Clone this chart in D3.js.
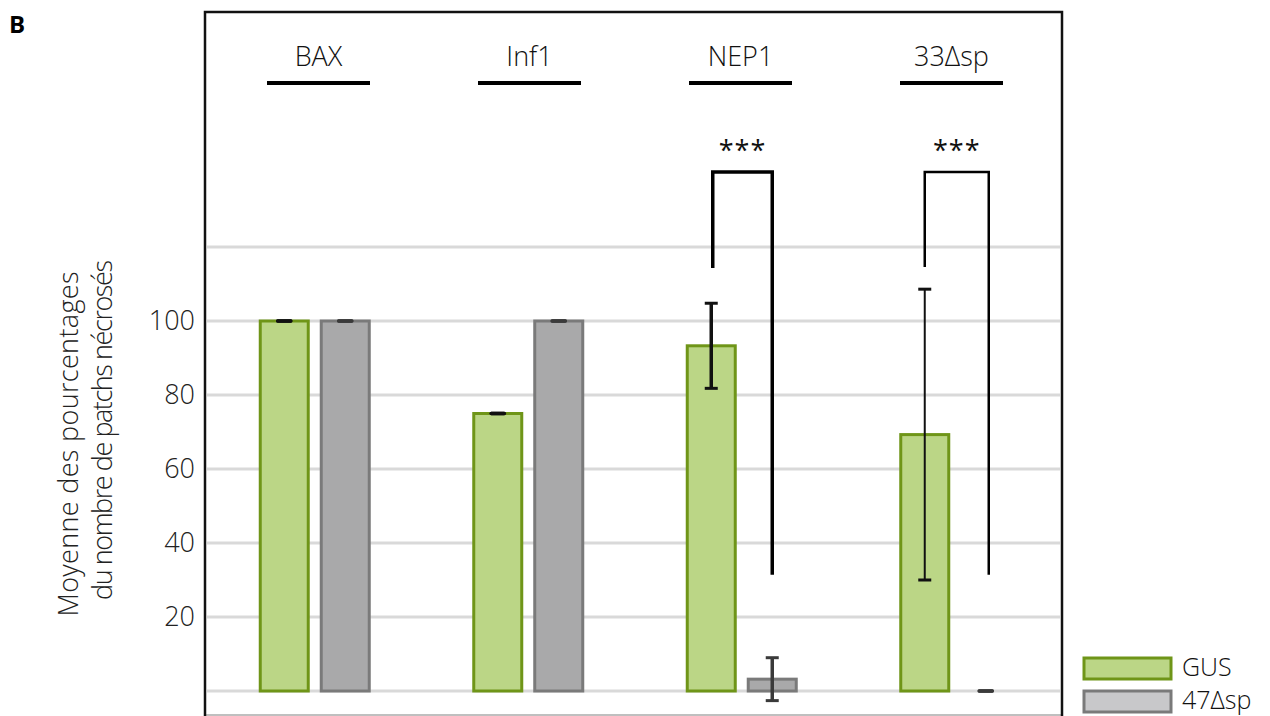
<!DOCTYPE html>
<html><head><meta charset="utf-8">
<script src="https://cdn.jsdelivr.net/npm/d3@7"></script>
<style>
html,body{margin:0;padding:0;background:#fff;}
svg{display:block;font-family:"Open Sans","Noto Sans",sans-serif;}
</style></head>
<body><svg id="c" width="1270" height="716"></svg>
<script>
// ---- data ----
const categories = ["BAX", "Inf1", "NEP1", "33\u0394sp"];
const series = ["GUS", "47\u0394sp"];
const gusValues = [100, 75, 93.3, 69.3];
const gusErrors = [0, 0, 11.5, 39.3];
const sp47Values = [100, 100, 3.2, 0];
const sp47Errors = [0, 0, 5.8, 0];
const yTicks = [20, 40, 60, 80, 100];
const gridValues = [0, 20, 40, 60, 80, 100, 120];
const significance = [
  {cat: "NEP1", top: 140.3, leftEnd: 114.3, rightEnd: 31.4, label: "***"},
  {cat: "33\u0394sp", top: 140.3, leftEnd: 114.6, rightEnd: 31.4, label: "***"}
];
const axisTitle = ["Moyenne des pourcentages", "du nombre de patchs n\u00e9cros\u00e9s"];
const panelLabel = "B";

// ---- styles ----
const fills = {"GUS": "#bbd686", "47\u0394sp": "#a9a9aa"};
const strokes = {"GUS": "#6f9518", "47\u0394sp": "#7a7a7a"};
const errColor = {"GUS": "#111", "47\u0394sp": "#3a3a3a"};
const errWidth = [3, 3, 3.5, 2];
const bracketWidth = [3.5, 2.5];

const svg = d3.select("#c");
const frame = {left: 205, right: 1062, top: 12, bottom: 715};

const x0 = d3.scaleBand().domain(categories).range([208, 1062]).paddingInner(0).paddingOuter(0);
const xh = d3.scaleBand().domain(categories).range([213, 1057]);
const x1 = d3.scaleBand().domain(series).range([-54.5, 54.5]).paddingInner(0.213).paddingOuter(0);
const y = d3.scaleLinear().domain([0, 100]).range([691, 321]);

const cx = c => x0(c) + x0.bandwidth() / 2;
const hx = c => xh(c) + xh.bandwidth() / 2;

// grid
svg.append("g").selectAll("line").data(gridValues).join("line")
  .attr("x1", frame.left + 2).attr("x2", frame.right - 2)
  .attr("y1", d => y(d)).attr("y2", d => y(d))
  .attr("stroke", "#d9d9d9").attr("stroke-width", 3);

// frame
svg.append("line").attr("x1", frame.left + 1).attr("x2", frame.right)
  .attr("y1", frame.bottom).attr("y2", frame.bottom)
  .attr("stroke", "#bfbfbf").attr("stroke-width", 2);
svg.append("path")
  .attr("d", `M${frame.left},716 V${frame.top} H${frame.right} V716`)
  .attr("fill", "none").attr("stroke", "#111").attr("stroke-width", 2.5);

// y axis labels
const yAxis = svg.append("g").attr("transform", `translate(${frame.left},0)`)
  .call(d3.axisLeft(y).tickValues(yTicks).tickSize(0).tickPadding(10));
yAxis.select(".domain").remove();
yAxis.selectAll("text").attr("font-size", 27).attr("fill", "#222")
  .attr("font-family", "'Open Sans','Noto Sans',sans-serif").attr("font-weight", 300);

// axis title
const titleCenters = [444, 430];
const titleLengths = [345, 340];
const titleBaselines = [78, 112];
axisTitle.forEach((t, i) => {
  svg.append("text")
    .attr("transform", `translate(${titleBaselines[i]},${titleCenters[i]}) rotate(-90)`)
    .attr("text-anchor", "middle").attr("font-size", 27).attr("font-weight", 300).attr("fill", "#222")
    .attr("textLength", titleLengths[i]).attr("lengthAdjust", "spacing")
    .text(t);
});

// panel label
svg.append("text").attr("x", 9).attr("y", 33).attr("font-size", 24).attr("font-weight", "bold")
  .attr("font-family", "'Open Sans','Noto Sans',sans-serif").text(panelLabel);

// category headers
const hdr = svg.append("g").selectAll("g").data(categories).join("g");
hdr.append("text").attr("x", d => hx(d)).attr("y", 66).attr("text-anchor", "middle")
  .attr("font-size", 27).attr("font-weight", 300).attr("fill", "#111").text(d => d);
hdr.append("line").attr("x1", d => hx(d) - 51.5).attr("x2", d => hx(d) + 51.5)
  .attr("y1", 83).attr("y2", 83).attr("stroke", "#000").attr("stroke-width", 4);

// bars
const rows = categories.map((c, i) => ({
  cat: c, i,
  vals: [
    {s: series[0], v: gusValues[i], e: gusErrors[i]},
    {s: series[1], v: sp47Values[i], e: sp47Errors[i]}
  ]
}));
const g = svg.append("g").selectAll("g").data(rows).join("g")
  .attr("transform", d => `translate(${cx(d.cat)},0)`);
g.selectAll("rect").data(d => d.vals.filter(v => v.v > 0)).join("rect")
  .attr("x", d => x1(d.s)).attr("width", x1.bandwidth())
  .attr("y", d => y(d.v)).attr("height", d => y(0) - y(d.v))
  .attr("fill", d => fills[d.s]).attr("stroke", d => strokes[d.s]).attr("stroke-width", 3);

// error bars
g.each(function(row) {
  const gg = d3.select(this);
  row.vals.forEach(d => {
    const xc = x1(d.s) + x1.bandwidth() / 2;
    const w = errWidth[row.i];
    const lo = d.v - d.e, hi = d.v + d.e;
    const col = errColor[d.s];
    if (d.e > 0) {
      gg.append("line").attr("x1", xc).attr("x2", xc).attr("y1", y(hi)).attr("y2", y(lo))
        .attr("stroke", col).attr("stroke-width", w);
    }
    [lo, hi].forEach(v => {
      gg.append("line").attr("x1", xc - 6.5).attr("x2", xc + 6.5).attr("y1", y(v)).attr("y2", y(v))
        .attr("stroke", col).attr("stroke-width", d.e > 0 ? 3 : 3.5)
        .attr("stroke-linecap", d.e > 0 ? "butt" : "round");
    });
  });
});

// significance brackets
significance.forEach((s, k) => {
  const xl = cx(s.cat) + x1(series[0]) + x1.bandwidth() / 2 + (k === 0 ? 1.5 : 0);
  const xr = cx(s.cat) + x1(series[1]) + x1.bandwidth() / 2 + (k === 1 ? 3 : 0);
  svg.append("path")
    .attr("d", `M${xl},${y(s.leftEnd)} V${y(s.top)} H${xr} V${y(s.rightEnd)}`)
    .attr("fill", "none").attr("stroke", "#000").attr("stroke-width", bracketWidth[k]);
  svg.append("text").attr("x", (xl + xr) / 2).attr("y", y(s.top) - 12)
    .attr("text-anchor", "middle").attr("font-size", 27).attr("letter-spacing", 1)
    .attr("fill", "#111").text(s.label);
});

// legend
const lg = svg.append("g").selectAll("g").data(series).join("g")
  .attr("transform", (d, i) => `translate(1083,${657 + i * 33})`);
lg.append("rect").attr("x", 1).attr("y", 1).attr("width", 87).attr("height", 21)
  .attr("fill", d => d === series[0] ? fills[d] : "#c8c8ca")
  .attr("stroke", d => strokes[d]).attr("stroke-width", 3);
lg.append("text").attr("x", 99).attr("y", 19).attr("font-size", 25).attr("font-weight", 300)
  .attr("fill", "#111").text(d => d);
</script></body></html>
